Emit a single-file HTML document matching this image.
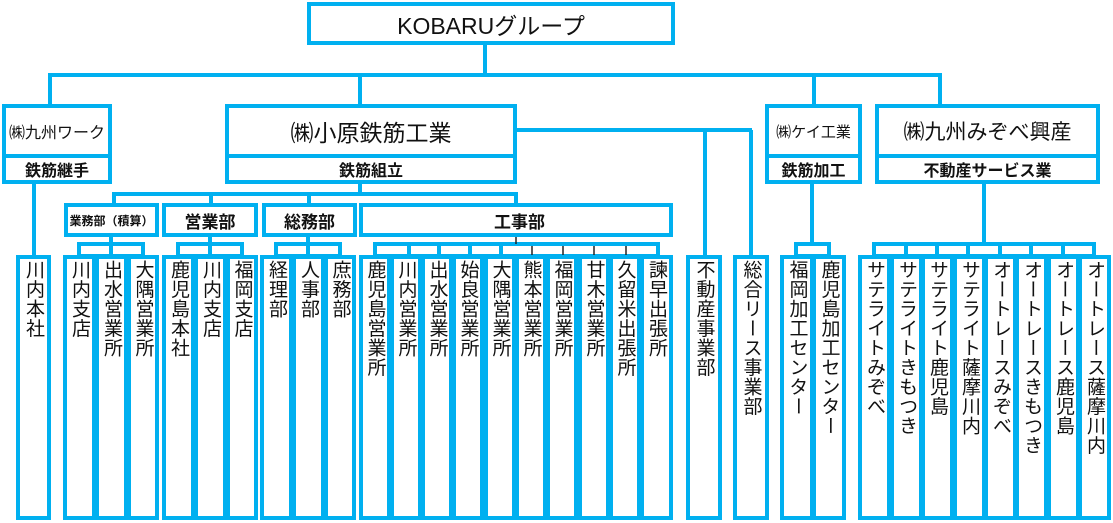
<!DOCTYPE html>
<html><head><meta charset="utf-8"><style>
*{margin:0;padding:0;box-sizing:border-box}
body{width:1113px;height:523px;background:#fff;position:relative;overflow:hidden;font-family:"Liberation Sans","Noto Sans CJK JP",sans-serif;color:#111}
.b{position:absolute;border:4px solid #00b0f0;background:#fff;display:flex;align-items:center;justify-content:center;white-space:nowrap}
.s{font-weight:bold}
.l{position:absolute;top:255px;height:265px;border:4px solid #00b0f0;background:#fff;writing-mode:vertical-rl;font-size:19px;line-height:1;display:flex;align-items:center;padding-top:1px;letter-spacing:0.5px}
svg{position:absolute;left:0;top:0}
</style></head><body>
<svg width="1113" height="523">
<g stroke="#00b0f0" stroke-width="4" fill="none">
<line x1="485" y1="44" x2="485" y2="75"/>
<line x1="48" y1="75" x2="942" y2="75"/>
<line x1="50" y1="75" x2="50" y2="106"/>
<line x1="360" y1="75" x2="360" y2="106"/>
<line x1="814" y1="75" x2="814" y2="106"/>
<line x1="940" y1="75" x2="940" y2="106"/>
<line x1="34" y1="182" x2="34" y2="256"/>
<line x1="516" y1="130" x2="752" y2="130"/>
<line x1="705" y1="130" x2="705" y2="256"/>
<line x1="751" y1="130" x2="751" y2="256"/>
<line x1="360" y1="182" x2="360" y2="194"/>
<line x1="112" y1="194" x2="518" y2="194"/>
<line x1="114" y1="194" x2="114" y2="204"/>
<line x1="211" y1="194" x2="211" y2="204"/>
<line x1="309" y1="194" x2="309" y2="204"/>
<line x1="516" y1="194" x2="516" y2="204"/>
<line x1="111" y1="236" x2="111" y2="244"/>
<rect x="79" y="244" width="64" height="12"/><line x1="111" y1="244" x2="111" y2="256"/>
<line x1="210" y1="236" x2="210" y2="244"/>
<rect x="178" y="244" width="64" height="12"/><line x1="210" y1="244" x2="210" y2="256"/>
<line x1="308" y1="236" x2="308" y2="244"/>
<rect x="276" y="244" width="64" height="12"/><line x1="308" y1="244" x2="308" y2="256"/>
<rect x="375" y="244" width="283" height="12"/>
<line x1="409" y1="244" x2="409" y2="256"/><line x1="439" y1="244" x2="439" y2="256"/><line x1="470" y1="244" x2="470" y2="256"/><line x1="501" y1="244" x2="501" y2="256"/>
<line x1="812" y1="182" x2="812" y2="244"/>
<rect x="796" y="244" width="33" height="12"/>
<line x1="984" y1="182" x2="984" y2="244"/>
<rect x="874" y="244" width="220" height="12"/>
<line x1="906" y1="244" x2="906" y2="256"/><line x1="937" y1="244" x2="937" y2="256"/><line x1="968" y1="244" x2="968" y2="256"/><line x1="1000" y1="244" x2="1000" y2="256"/><line x1="1031" y1="244" x2="1031" y2="256"/><line x1="1063" y1="244" x2="1063" y2="256"/>
</g>
<g stroke="#222" stroke-width="1.5">
<line x1="516" y1="236" x2="516" y2="244"/>
<line x1="532" y1="246" x2="532" y2="256"/><line x1="563" y1="246" x2="563" y2="256"/><line x1="594" y1="246" x2="594" y2="256"/><line x1="626" y1="246" x2="626" y2="256"/>
</g>
</svg>
<div class="b" style="left:307px;top:2px;width:368px;height:43px;font-size:23px">KOBARUグループ</div>

<div class="b" style="left:2px;top:104px;width:110px;height:54px;font-size:16px">㈱九州ワーク</div>
<div class="b s" style="left:2px;top:154px;width:110px;height:30px;font-size:16px">鉄筋継手</div>
<div class="b" style="left:225px;top:104px;width:292px;height:54px;font-size:23px">㈱小原鉄筋工業</div>
<div class="b s" style="left:225px;top:154px;width:292px;height:30px;font-size:16px">鉄筋組立</div>
<div class="b" style="left:765px;top:104px;width:97px;height:54px;font-size:15px">㈱ケイ工業</div>
<div class="b s" style="left:765px;top:154px;width:97px;height:30px;font-size:16px">鉄筋加工</div>
<div class="b" style="left:875px;top:104px;width:225px;height:54px;font-size:21px">㈱九州みぞべ興産</div>
<div class="b s" style="left:875px;top:154px;width:225px;height:30px;font-size:16px">不動産サービス業</div>

<div class="b s" style="left:64px;top:203px;width:95px;height:34px;font-size:12px">業務部（積算）</div>
<div class="b s" style="left:162px;top:203px;width:96px;height:34px;font-size:17px">営業部</div>
<div class="b s" style="left:262px;top:203px;width:95px;height:34px;font-size:17px">総務部</div>
<div class="b s" style="left:359px;top:203px;width:314px;height:34px;font-size:17px;justify-content:flex-start;padding-left:131px">工事部</div>

<div class="l" style="left:16px;width:35px">川内本社</div>
<div class="l" style="left:63px;width:33px">川内支店</div>
<div class="l" style="left:95px;width:33px">出水営業所</div>
<div class="l" style="left:127px;width:32px">大隅営業所</div>
<div class="l" style="left:162px;width:33px">鹿児島本社</div>
<div class="l" style="left:194px;width:33px">川内支店</div>
<div class="l" style="left:226px;width:32px">福岡支店</div>
<div class="l" style="left:260px;width:33px">経理部</div>
<div class="l" style="left:292px;width:33px">人事部</div>
<div class="l" style="left:324px;width:32px">庶務部</div>
<div class="l" style="left:359px;width:32px">鹿児島営業所</div>
<div class="l" style="left:390px;width:32px">川内営業所</div>
<div class="l" style="left:421px;width:32px">出水営業所</div>
<div class="l" style="left:452px;width:32px">始良営業所</div>
<div class="l" style="left:484px;width:32px">大隅営業所</div>
<div class="l" style="left:515px;width:32px">熊本営業所</div>
<div class="l" style="left:546px;width:32px">福岡営業所</div>
<div class="l" style="left:578px;width:32px">甘木営業所</div>
<div class="l" style="left:609px;width:32px">久留米出張所</div>
<div class="l" style="left:640px;width:33px">諫早出張所</div>
<div class="l" style="left:686px;width:36px">不動産事業部</div>
<div class="l" style="left:733px;width:36px">総合リース事業部</div>
<div class="l" style="left:780px;width:34px">福岡加工センター</div>
<div class="l" style="left:812px;width:34px">鹿児島加工センター</div>
<div class="l" style="left:858px;width:33px">サテライトみぞべ</div>
<div class="l" style="left:890px;width:33px">サテライトきもつき</div>
<div class="l" style="left:921px;width:33px">サテライト鹿児島</div>
<div class="l" style="left:953px;width:33px">サテライト薩摩川内</div>
<div class="l" style="left:984px;width:33px">オートレースみぞべ</div>
<div class="l" style="left:1015px;width:33px">オートレースきもつき</div>
<div class="l" style="left:1047px;width:33px">オートレース鹿児島</div>
<div class="l" style="left:1078px;width:33px">オートレース薩摩川内</div>
</body></html>
